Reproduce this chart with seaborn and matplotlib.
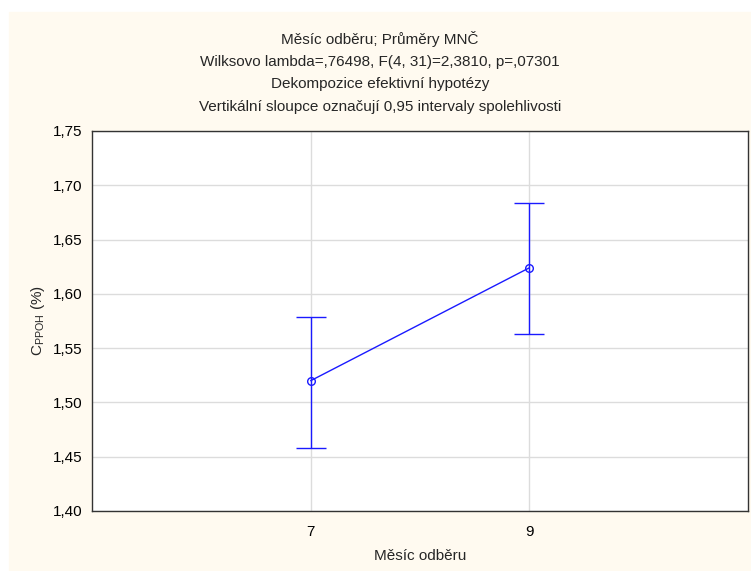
import numpy as np
import pandas as pd
import matplotlib
matplotlib.use('Agg')
import matplotlib.pyplot as plt
import seaborn as sns

months = ['7', '9']
means = [1.520, 1.624]
ci_low = [1.458, 1.563]
ci_high = [1.579, 1.684]
y_ticks = [1.40, 1.45, 1.50, 1.55, 1.60, 1.65, 1.70, 1.75]

title_lines = [
    'Měsíc odběru; Průměry MNČ',
    'Wilksovo lambda=,76498, F(4, 31)=2,3810, p=,07301',
    'Dekompozice efektivní hypotézy',
    'Vertikální sloupce označují 0,95 intervaly spolehlivosti',
]

sns.set_theme(style='whitegrid')
plt.rcParams['font.family'] = ['Liberation Sans', 'DejaVu Sans']
plt.rcParams['mathtext.fontset'] = 'custom'
plt.rcParams['mathtext.rm'] = 'Liberation Sans'

BLUE = '#1a1aff'
CREAM = '#FFFAF0'
FS = 11

df = pd.DataFrame({'pos': np.arange(1, len(months) + 1), 'mean': means,
                   'lo': ci_low, 'hi': ci_high})

fig = plt.figure(figsize=(7.51, 5.71), dpi=100)
fig.patch.set_facecolor('white')
# cream panel behind everything
fig.patches.append(plt.Rectangle((9 / 751, 0), 1, 1 - 12 / 571,
                                 transform=fig.transFigure, color=CREAM, zorder=-10))
ax = fig.add_axes([92 / 751, 60 / 571, 656 / 751, 380 / 571])
ax.set_facecolor('white')

sns.lineplot(data=df, x='pos', y='mean', ax=ax, color=BLUE, lw=1,
             marker='o', markersize=5.5, markerfacecolor='none',
             markeredgecolor=BLUE, markeredgewidth=1)
ax.errorbar(df['pos'], df['mean'],
            yerr=[df['mean'] - df['lo'], df['hi'] - df['mean']],
            fmt='none', ecolor=BLUE, elinewidth=1, capsize=10.5, capthick=1)

ax.set_xlim(0, len(months) + 1)
ax.set_xticks(df['pos'])
ax.set_xticklabels(months)
ax.set_ylim(1.40, 1.75)
ax.set_yticks(y_ticks)
ax.set_yticklabels([f'{v:.2f}'.replace('.', ',') for v in y_ticks])

ax.grid(True, color='#dcdcdc', lw=1)
for s in ax.spines.values():
    s.set_color('#333333')
    s.set_linewidth(1)
ax.tick_params(direction='in', length=4, width=1, color='#333333',
               labelsize=FS, labelcolor='black')
ax.tick_params(axis='y', pad=7)
ax.tick_params(axis='x', pad=10)

ax.set_xlabel('Měsíc odběru', fontsize=FS, labelpad=7)
ax.set_ylabel(r'C$_{\mathregular{PPOH}}$ (%)', fontsize=FS, labelpad=4)

for i, t in enumerate(title_lines):
    fig.text(0.5 * (1 + 9 / 751), 1 - (39 + i * 22.7) / 571, t,
             ha='center', va='center', fontsize=FS)

plt.savefig('out.png', dpi=100)
